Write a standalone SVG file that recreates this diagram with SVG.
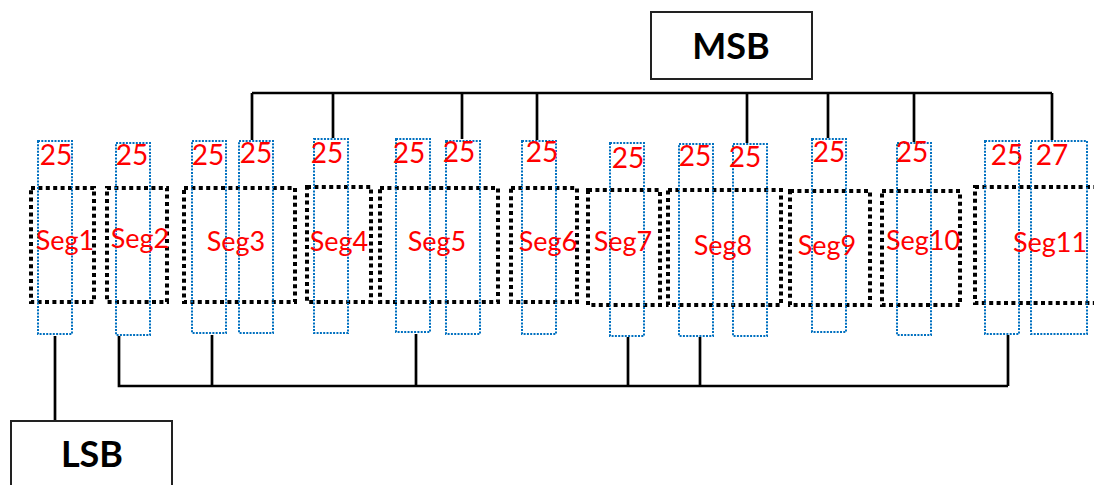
<svg xmlns="http://www.w3.org/2000/svg" width="1094" height="485" viewBox="0 0 1094 485">
<style>
.seg{fill:none;stroke:#000;stroke-width:4;stroke-dasharray:4 3.4}
.bit{fill:none;stroke:#0070C0;stroke-width:2;stroke-dasharray:2 1.3}
.lbl{font-family:Lato,"Liberation Sans",sans-serif;font-size:27px;fill:#FF0000;text-anchor:middle}
.num{font-family:Lato,"Liberation Sans",sans-serif;font-size:28px;fill:#FF0000;text-anchor:middle}
.box{fill:#fff;stroke:#222;stroke-width:2}
.big{font-family:Lato,"Liberation Sans",sans-serif;font-size:36px;font-weight:bold;fill:#000;text-anchor:middle}
.wire{fill:none;stroke:#000;stroke-width:2.7}
</style>
<rect width="1094" height="485" fill="#fff"/>
<g id="connectors">
<path class="wire" d="M252 93H1052M252 93V140M333 93V138M462 93V139M537 93V140M747 93V143M828 93V138M914 93V142M1052 93V140"/>
<path class="wire" d="M55 336V421"/>
<path class="wire" d="M119 336V386H1008M212 335V386M416 334V386M628 337V386M700 337V386M1008 335V386"/>
</g>
<g id="msb"><rect class="box" x="651" y="12" width="161" height="67"/><text class="big" x="731" y="59">MSB</text></g>
<g id="lsb"><rect class="box" x="11" y="421" width="161" height="70"/><text class="big" x="92" y="467">LSB</text></g>
<g id="seg1"><rect class="seg" x="31" y="188" width="63" height="114"/><rect class="bit" x="38" y="141" width="34" height="193"/><text class="num" x="56" y="165">25</text><text class="lbl" x="65" y="250">Seg1</text></g>
<g id="seg2"><rect class="seg" x="107" y="188" width="60" height="114"/><rect class="bit" x="116" y="143" width="34" height="192"/><text class="num" x="132" y="165">25</text><text class="lbl" x="140" y="248">Seg2</text></g>
<g id="seg3"><rect class="seg" x="184" y="188" width="111" height="114"/><rect class="bit" x="192" y="141" width="34" height="192"/><rect class="bit" x="239" y="141" width="34" height="192"/><text class="num" x="208" y="165">25</text><text class="num" x="256" y="163">25</text><text class="lbl" x="236" y="251">Seg3</text></g>
<g id="seg4"><rect class="seg" x="307" y="187" width="64" height="115"/><rect class="bit" x="314" y="139" width="34" height="194"/><text class="num" x="327" y="163">25</text><text class="lbl" x="339" y="251">Seg4</text></g>
<g id="seg5"><rect class="seg" x="380" y="188" width="118" height="114"/><rect class="bit" x="396" y="139" width="34" height="193"/><rect class="bit" x="446" y="141" width="34" height="193"/><text class="num" x="409" y="163">25</text><text class="num" x="459" y="162">25</text><text class="lbl" x="437" y="251">Seg5</text></g>
<g id="seg6"><rect class="seg" x="511" y="188" width="66" height="114"/><rect class="bit" x="522" y="141" width="34" height="193"/><text class="num" x="542" y="162">25</text><text class="lbl" x="548" y="251">Seg6</text></g>
<g id="seg7"><rect class="seg" x="588" y="190" width="72" height="115"/><rect class="bit" x="610" y="143" width="34" height="193"/><text class="num" x="628" y="168">25</text><text class="lbl" x="623" y="251">Seg7</text></g>
<g id="seg8"><rect class="seg" x="668" y="190" width="113" height="115"/><rect class="bit" x="679" y="144" width="34" height="192"/><rect class="bit" x="733" y="144" width="34" height="192"/><text class="num" x="695" y="166">25</text><text class="num" x="745" y="167">25</text><text class="lbl" x="723" y="255">Seg8</text></g>
<g id="seg9"><rect class="seg" x="790" y="191" width="80" height="114"/><rect class="bit" x="812" y="139" width="34" height="193"/><text class="num" x="829" y="162">25</text><text class="lbl" x="827" y="255">Seg9</text></g>
<g id="seg10"><rect class="seg" x="882" y="191" width="78" height="114"/><rect class="bit" x="897" y="143" width="34" height="192"/><text class="num" x="912" y="162">25</text><text class="lbl" x="923" y="250">Seg10</text></g>
<g id="seg11"><rect class="seg" x="975" y="187" width="125" height="116"/><rect class="bit" x="985" y="141" width="34" height="193"/><rect class="bit" x="1031" y="141" width="56" height="193"/><text class="num" x="1007" y="165">25</text><text class="num" x="1052" y="165">27</text><text class="lbl" x="1050" y="252">Seg11</text></g>
</svg>
